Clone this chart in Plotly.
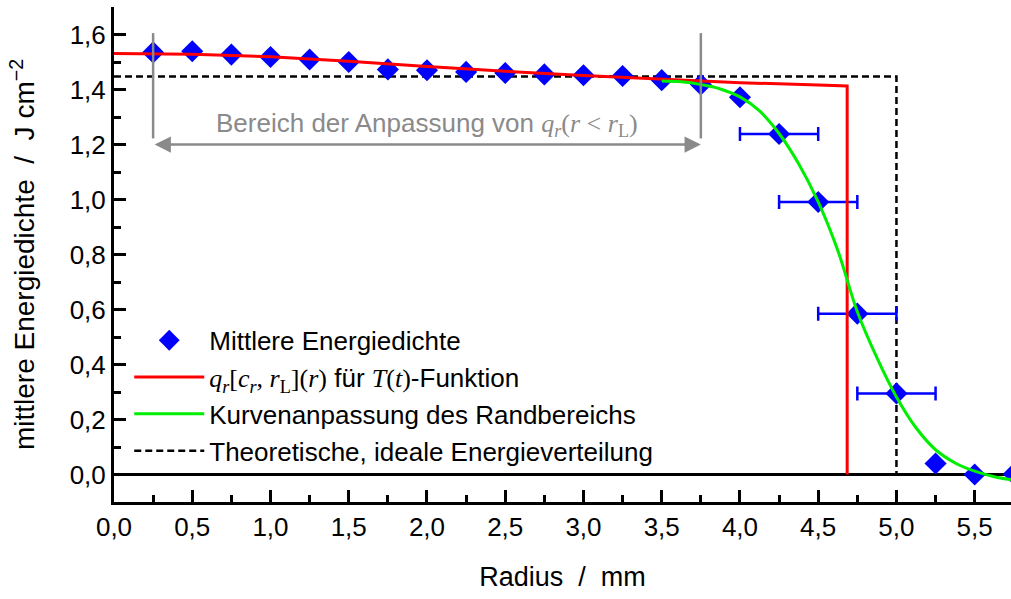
import plotly.graph_objects as go

# ---- data ----
r_meas = [0.25, 0.5, 0.75, 1.0, 1.25, 1.5, 1.75, 2.0, 2.25, 2.5, 2.75, 3.0,
          3.25, 3.5, 3.75, 4.0, 4.25, 4.5, 4.75, 5.0, 5.25, 5.5, 5.75]
e_meas = [1.535, 1.539, 1.527, 1.518, 1.509, 1.500, 1.473, 1.470, 1.464, 1.460,
          1.455, 1.452, 1.449, 1.434, 1.418, 1.372, 1.238, 0.991, 0.585, 0.295,
          0.040, 0.000, 0.002]

r_err = [4.25, 4.5, 4.75, 5.0]
e_err = [1.238, 0.991, 0.585, 0.295]
dr_err = [0.25, 0.25, 0.25, 0.25]

r_red = [0.0, 0.5, 1.0, 1.5, 2.0, 2.5, 3.0, 3.5, 4.0, 4.5, 4.685, 4.685]
q_red = [1.531, 1.528, 1.519, 1.503, 1.484, 1.466, 1.451, 1.437, 1.425, 1.416, 1.413, 0.0]

r_fit = [3.5, 3.625, 3.75, 3.875, 4.0, 4.125, 4.25, 4.375, 4.5, 4.625, 4.75,
         4.875, 5.0, 5.125, 5.25, 5.375, 5.5, 5.625, 5.75]
e_fit = [1.431, 1.428, 1.418, 1.402, 1.373, 1.322, 1.240, 1.130, 0.991, 0.815,
         0.592, 0.425, 0.282, 0.170, 0.090, 0.042, 0.012, -0.008, -0.020]

r_theo = [0.0, 5.0, 5.0]
e_theo = [1.447, 1.447, 0.0]

x_ticks = [0.0, 0.5, 1.0, 1.5, 2.0, 2.5, 3.0, 3.5, 4.0, 4.5, 5.0, 5.5]
y_ticks = [0.0, 0.2, 0.4, 0.6, 0.8, 1.0, 1.2, 1.4, 1.6]

FONT = "Liberation Sans"
SERIF = "Liberation Serif"
GRAY = "#8a8a8a"
NB = "\u00a0"

def m(s):
    return f"<span style='font-family:{SERIF}'>{s}</span>"

legend_red = (m("<i>q</i><sub><i>r</i></sub>[<i>c</i><sub><i>r</i></sub>, "
                "<i>r</i><sub>L</sub>](<i>r</i>)") + " für " + m("<i>T</i>(<i>t</i>)") + "-Funktion")
ann_text = "Bereich der Anpassung von " + m("<i>q</i><sub><i>r</i></sub>(<i>r</i> &lt; <i>r</i><sub>L</sub>)")

fig = go.Figure()

fig.add_trace(go.Scatter(x=r_theo, y=e_theo, mode="lines",
                         line=dict(color="black", width=2.5, dash="7px,4px"),
                         name="Theoretische, ideale Energieverteilung", legendrank=4))
fig.add_trace(go.Scatter(x=r_err, y=e_err, mode="markers",
                         marker=dict(size=1, color="blue", opacity=0),
                         error_x=dict(type="data", array=dr_err, color="blue",
                                      thickness=2.5, width=7),
                         showlegend=False, hoverinfo="skip"))
fig.add_trace(go.Scatter(x=r_meas, y=e_meas, mode="markers",
                         marker=dict(symbol="diamond", size=17, color="blue"),
                         name="Mittlere Energiedichte", legendrank=1))
fig.add_trace(go.Scatter(x=r_red, y=q_red, mode="lines",
                         line=dict(color="red", width=3),
                         name=legend_red, legendrank=2))
fig.add_trace(go.Scatter(x=r_fit, y=e_fit, mode="lines", line_shape="spline",
                         line=dict(color="#00ee00", width=3),
                         name="Kurvenanpassung des Randbereichs", legendrank=3))

tick_common = dict(ticks="inside", ticklen=12, tickwidth=2.5, tickcolor="black",
                   showline=True, linewidth=3, linecolor="black", showgrid=False)

fig.update_layout(
    width=1011, height=599,
    margin=dict(l=114, r=0, t=7, b=97),
    paper_bgcolor="white", plot_bgcolor="white",
    separators=",.",
    font=dict(family=FONT, size=26, color="black"),
    showlegend=True,
    legend=dict(x=0.017, y=0.374, xanchor="left", yanchor="top",
                bgcolor="rgba(0,0,0,0)", borderwidth=0,
                font=dict(size=26), itemwidth=70, tracegroupgap=0),
    xaxis=dict(range=[0, 5.732], tickvals=x_ticks, tickformat=".1f",
               minor=dict(ticks="inside", ticklen=7, tickwidth=2.5, dtick=0.25,
                          tick0=0, tickcolor="black"),
               title=dict(text=f"Radius{NB} /{NB} mm", font=dict(size=27), standoff=26),
               **tick_common),
    yaxis=dict(range=[-0.1, 1.7], tickvals=y_ticks, tickformat=".1f",
               minor=dict(ticks="inside", ticklen=7, tickwidth=2.5, dtick=0.1,
                          tick0=0, tickcolor="black"),
               zeroline=True, zerolinecolor="black", zerolinewidth=2.5,
               title=dict(text=f"mittlere Energiedichte{NB} /{NB} J cm<sup>−2</sup>",
                          font=dict(size=28), standoff=27),
               **tick_common),
    xaxis2=dict(range=[0, 5.732], overlaying="x", side="top", anchor="y",
                tickvals=x_ticks, showticklabels=False,
                minor=dict(ticks="inside", ticklen=7, tickwidth=2.5, dtick=0.25,
                           tick0=0, tickcolor="black"),
                **tick_common),
    yaxis2=dict(range=[-0.1, 1.7], overlaying="y", side="right", anchor="x",
                tickvals=y_ticks, showticklabels=False, zeroline=False,
                ticks="inside", ticklen=12, tickwidth=2.5, tickcolor="black",
                showline=False, showgrid=False,
                minor=dict(ticks="inside", ticklen=7, tickwidth=2.5, dtick=0.1,
                           tick0=0, tickcolor="black")),
)

# annotation: range of the fit
for xv in (0.25, 3.75):
    fig.add_shape(type="line", x0=xv, x1=xv, y0=1.222, y1=1.605, xref="x", yref="y",
                  line=dict(color=GRAY, width=2.5))
fig.add_annotation(x=3.75, y=1.2, ax=0.25, ay=1.2, xref="x", yref="y",
                   axref="x", ayref="y", text="", showarrow=True,
                   arrowhead=2, startarrowhead=2, arrowside="end+start",
                   arrowsize=1.3, startarrowsize=1.3, arrowwidth=2.5, arrowcolor=GRAY)
fig.add_annotation(x=2.0, y=1.272, xref="x", yref="y", text=ann_text,
                   showarrow=False, font=dict(size=26, color=GRAY))

fig.write_html("out.html")
